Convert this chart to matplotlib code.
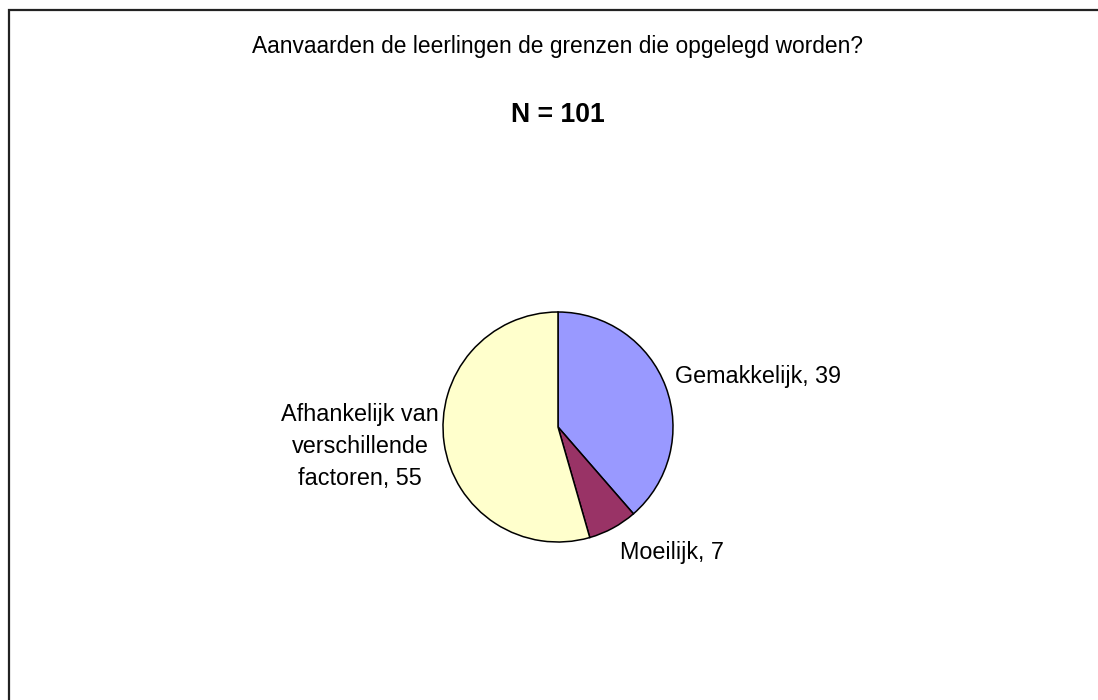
import matplotlib
matplotlib.use("Agg")
import matplotlib.pyplot as plt
from matplotlib.patches import Rectangle

# ---------------------------------------------------------------------
# DATA
# ---------------------------------------------------------------------
categories = ["Gemakkelijk", "Moeilijk", "Afhankelijk van\nverschillende\nfactoren"]
counts = [39, 7, 55]
colors = ["#9999FF", "#993366", "#FFFFCC"]
title = "Aanvaarden de leerlingen de grenzen die opgelegd worden?"
subtitle = "N = 101"

plt.rcParams["font.family"] = ["Liberation Sans", "DejaVu Sans"]

W, H = 1098, 700
fig = plt.figure(figsize=(W / 100, H / 100), dpi=100)
fig.patch.set_facecolor("white")

# outer frame (clipped at right/bottom like the original)
fig.patches.append(Rectangle((8.5 / W, -0.1), 1.2, 1.1 - 10.5 / H,
                             transform=fig.transFigure, fill=False,
                             edgecolor="#222222", linewidth=1.6))

fig.text(558 / W, 1 - 46 / H, title, ha="center", va="center", fontsize=16.4)
fig.text(558 / W, 1 - 115 / H, subtitle, ha="center", va="center",
         fontsize=19.2, fontweight="bold")

# pie axes: center (558, 427) px, radius 115 px
cx, cy, r = 558, 427, 115
ax = fig.add_axes([(cx - r) / W, (H - cy - r) / H, 2 * r / W, 2 * r / H])
ax.pie(counts, colors=colors, startangle=90, counterclock=False,
       wedgeprops=dict(edgecolor="black", linewidth=1.1))
ax.set_xlim(-1, 1)
ax.set_ylim(-1, 1)
ax.set_aspect("equal")
ax.axis("off")

# labels "name, value"
label_pos = [(1.02, 0.44, "left"), (0.54, -1.09, "left"), (-1.72, -0.17, "center")]
for name, val, (x, y, ha) in zip(categories, counts, label_pos):
    ax.text(x, y, f"{name}, {val}", ha=ha, va="center", fontsize=16.8,
            linespacing=1.5, clip_on=False)

fig.savefig("out.png", dpi=100)
